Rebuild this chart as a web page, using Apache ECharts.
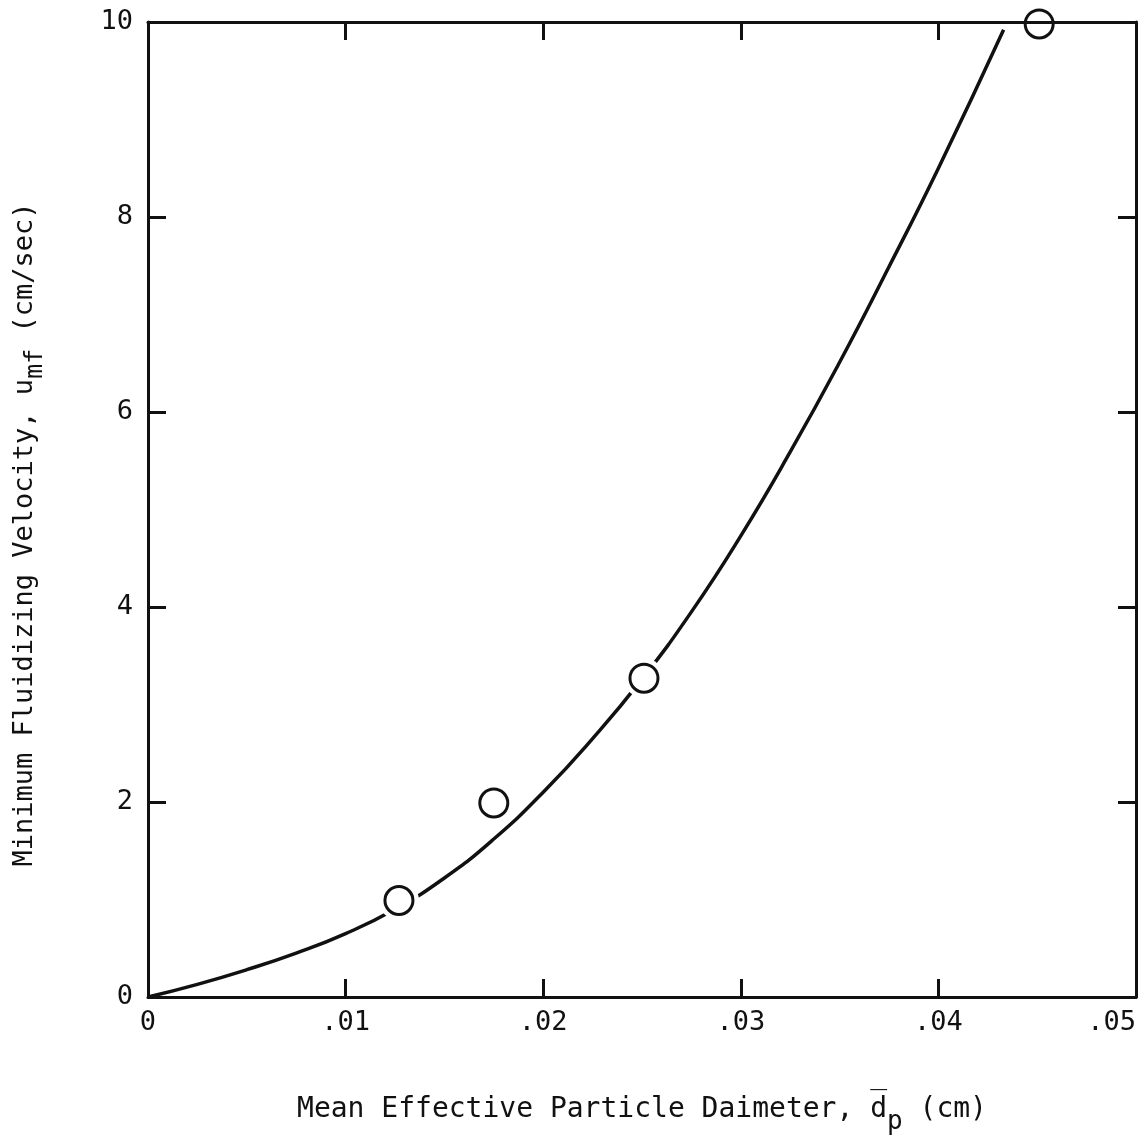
<!DOCTYPE html>
<html>
<head>
<meta charset="utf-8">
<script src="https://cdn.jsdelivr.net/npm/echarts@6/dist/echarts.min.js"></script>
<style>
  html, body { margin: 0; padding: 0; background: #fff; }
  #main { width: 1144px; height: 1144px; }
</style>
</head>
<body>
<div id="main"></div>
<script>
// measured points (circles)
const pointX = [0.0127, 0.0175, 0.0251, 0.0451]
const pointY = [0.99, 1.99, 3.27, 9.98]

// fitted curve
const curveX = [0, 0.0025, 0.005, 0.0075, 0.010, 0.0125, 0.015, 0.0175, 0.020, 0.0225, 0.025, 0.0275, 0.030, 0.0325, 0.035, 0.0375, 0.040, 0.0433]
const curveY = [0, 0.13, 0.28, 0.45, 0.65, 0.90, 1.22, 1.62, 2.10, 2.65, 3.26, 3.95, 4.73, 5.59, 6.51, 7.49, 8.50, 9.92]

const X_NAME = 'Mean Effective Particle Daimeter, d\u0305{sub|p} (cm)'
const Y_NAME = 'Minimum Fluidizing Velocity, u{sub|mf} (cm/sec)'

const FONT = '"DejaVu Sans Mono", "Liberation Mono", monospace'
const INK = '#111'

const axisLine = { show: true, onZero: false, lineStyle: { color: INK, width: 3 } }
const axisTick = { show: true, inside: true, length: 18, lineStyle: { color: INK, width: 3 } }

function xLabel(v) {
  if (v === 0) return '0'
  return v.toFixed(2).replace(/^0/, '')
}

const chart = echarts.init(document.getElementById('main'), null, { renderer: 'canvas' })

chart.setOption({
  backgroundColor: '#fff',
  animation: false,
  grid: { left: 148, right: 8, top: 22, bottom: 147, outerBoundsMode: 'none' },
  xAxis: [
    {
      type: 'value', min: 0, max: 0.05, interval: 0.01, position: 'bottom', z: 5,
      axisLine, axisTick,
      splitLine: { show: false },
      axisLabel: { color: INK, fontFamily: FONT, fontSize: 27, margin: 12, formatter: xLabel, alignMaxLabel: 'right' },
      name: X_NAME,
      nameLocation: 'middle',
      nameGap: 88,
      nameTextStyle: {
        color: INK, fontFamily: FONT, fontSize: 28,
        rich: {
          sub: { color: INK, fontFamily: FONT, fontSize: 26, padding: [24, 0, 0, 0] },
        },
      },
    },
    {
      type: 'value', min: 0, max: 0.05, interval: 0.01, position: 'top', z: 5,
      axisLine, axisTick,
      splitLine: { show: false },
      axisLabel: { show: false },
    },
  ],
  yAxis: [
    {
      type: 'value', min: 0, max: 10, interval: 2, position: 'left', z: 5,
      axisLine, axisTick,
      splitLine: { show: false },
      axisLabel: { color: INK, fontFamily: FONT, fontSize: 27, margin: 15 },
      name: Y_NAME,
      nameLocation: 'middle',
      nameGap: 100,
      nameRotate: 90,
      nameTextStyle: {
        color: INK, fontFamily: FONT, fontSize: 27,
        padding: [0, 50, 0, 0],
        rich: {
          sub: { color: INK, fontFamily: FONT, fontSize: 25, padding: [22, 0, 0, 0] },
        },
      },
    },
    {
      type: 'value', min: 0, max: 10, interval: 2, position: 'right', z: 5,
      axisLine, axisTick,
      splitLine: { show: false },
      axisLabel: { show: false },
    },
  ],
  series: [
    {
      name: 'curve', type: 'line',
      data: curveX.map((x, i) => [x, curveY[i]]),
      smooth: true,
      symbol: 'none',
      lineStyle: { color: INK, width: 3.5 },
      z: 2,
    },
    {
      // white gap where the curve meets a circle
      name: 'gap', type: 'scatter',
      data: pointX.map((x, i) => [x, pointY[i]]),
      symbol: 'circle',
      symbolSize: 40,
      silent: true,
      itemStyle: { color: '#fff', opacity: 1 },
      z: 3,
    },
    {
      name: 'points', type: 'scatter',
      data: pointX.map((x, i) => [x, pointY[i]]),
      symbol: 'circle',
      symbolSize: 28,
      itemStyle: { color: 'rgba(0,0,0,0)', borderColor: INK, borderWidth: 3, opacity: 1 },
      z: 4,
    },
  ],
})
</script>
</body>
</html>
